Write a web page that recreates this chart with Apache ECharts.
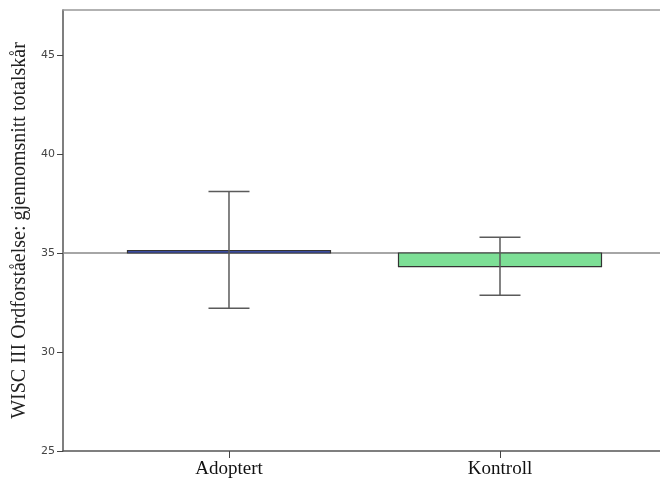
<!DOCTYPE html>
<html>
<head>
<meta charset="utf-8">
<script src="https://cdn.jsdelivr.net/npm/echarts@6/dist/echarts.min.js"></script>
<style>html,body{margin:0;padding:0;background:#fff}#c{width:660px;height:482px}</style>
</head>
<body>
<div id="c"></div>
<script>
var categories = ['Adoptert', 'Kontroll'];
var means = [35.12, 34.31];
var ciLow = [32.21, 32.86];
var ciHigh = [38.10, 35.79];
var baseline = 35;
var yTicks = [25, 30, 35, 40, 45];
var barColors = ['#4156c4', '#7ddf96'];

var chart = echarts.init(document.getElementById('c'), null, {renderer: 'canvas'});

var barData = categories.map(function (c, i) { return [i, means[i]]; });
var errData = categories.map(function (c, i) { return [i, ciLow[i], ciHigh[i]]; });

var option = {
  animation: false,
  grid: {left: 63, top: 10, right: 0, bottom: 31, containLabel: false, outerBoundsMode: 'none'},
  xAxis: [{
    type: 'value', min: -0.6125, max: 1.5904,
    splitLine: {show: false},
    axisLine: {show: true, onZero: false, lineStyle: {color: '#555', width: 1.5}},
    axisTick: {show: true, customValues: [0, 1], length: 7, lineStyle: {color: '#444', width: 1}},
    axisLabel: {
      customValues: [0, 1], margin: 9,
      formatter: function (v) { return categories[Math.round(v)] || ''; },
      fontFamily: 'Liberation Serif', fontSize: 19, color: '#111'
    }
  }, {
    type: 'value', min: -0.6125, max: 1.5904, position: 'top',
    splitLine: {show: false},
    axisLine: {show: true, onZero: false, lineStyle: {color: '#999', width: 1.5}},
    axisTick: {show: false}, axisLabel: {show: false}
  }],
  yAxis: {
    type: 'value', min: 25, max: 47.27, interval: 5,
    name: 'WISC III Ordforståelse: gjennomsnitt totalskår',
    nameLocation: 'middle', nameGap: 33,
    nameTextStyle: {fontFamily: 'Liberation Serif', fontSize: 20, color: '#222'},
    splitLine: {show: false},
    axisLine: {show: true, onZero: false, lineStyle: {color: '#555', width: 1.5}},
    axisTick: {show: true, customValues: yTicks, length: 6, lineStyle: {color: '#444', width: 1}},
    axisLabel: {
      customValues: yTicks,
      margin: 8, fontFamily: 'DejaVu Sans', fontSize: 11, color: '#444',
      formatter: function (v) { return String(v); }
    }
  },
  series: [{
    type: 'custom',
    z: 2,
    data: barData,
    encode: {x: 0, y: 1},
    renderItem: function (params, api) {
      var i = api.value(0);
      var p0 = api.coord([i, baseline]);
      var p1 = api.coord([i, api.value(1)]);
      var w = 203;
      var y = Math.min(p0[1], p1[1]);
      var h = Math.max(Math.abs(p1[1] - p0[1]), 2);
      return {
        type: 'rect',
        shape: {x: p0[0] - w / 2, y: y, width: w, height: h},
        style: {fill: barColors[params.dataIndex], stroke: '#333', lineWidth: 1.2}
      };
    },
    markLine: {
      silent: true, symbol: ['none', 'none'], label: {show: false},
      lineStyle: {color: '#888', width: 1.5, type: 'solid'},
      data: [{yAxis: baseline}],
      z: 1
    }
  }, {
    type: 'custom',
    z: 3,
    data: errData,
    encode: {x: 0, y: [1, 2]},
    renderItem: function (params, api) {
      var i = api.value(0);
      var lo = api.coord([i, api.value(1)]);
      var hi = api.coord([i, api.value(2)]);
      var cw = 20.5;
      var st = {stroke: '#5a5a5a', lineWidth: 1.5};
      return {
        type: 'group',
        children: [
          {type: 'line', shape: {x1: lo[0], y1: lo[1], x2: hi[0], y2: hi[1]}, style: st},
          {type: 'line', shape: {x1: lo[0] - cw, y1: lo[1], x2: lo[0] + cw, y2: lo[1]}, style: st},
          {type: 'line', shape: {x1: hi[0] - cw, y1: hi[1], x2: hi[0] + cw, y2: hi[1]}, style: st}
        ]
      };
    }
  }]
};
chart.setOption(option);
</script>
</body>
</html>
